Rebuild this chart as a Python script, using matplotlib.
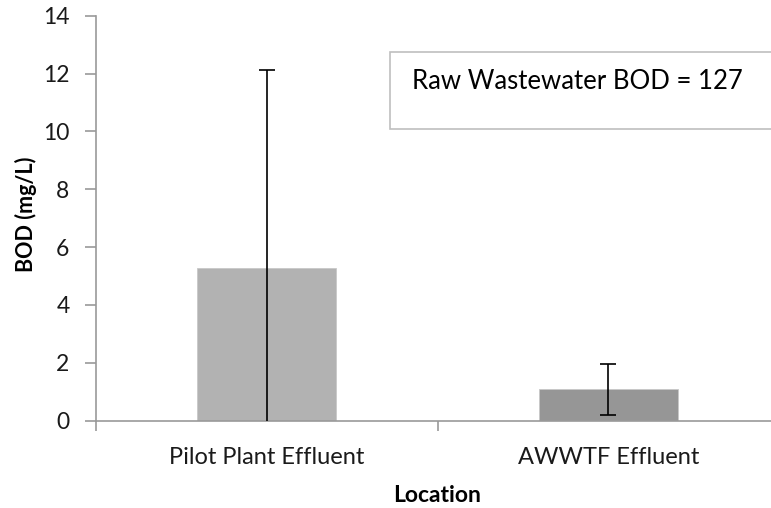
import matplotlib
matplotlib.use("Agg")
import matplotlib.pyplot as plt
from matplotlib.patches import Rectangle

categories = ["Pilot Plant Effluent", "AWWTF Effluent"]
bod_values = [5.28, 1.08]
bod_errors = [6.83, 0.88]
bar_colors = ["#b2b2b2", "#969696"]
y_ticks = [0, 2, 4, 6, 8, 10, 12, 14]

W, H = 771, 508
plt.rcParams['font.family'] = ['Lato', 'DejaVu Sans']
fig = plt.figure(figsize=(W / 100, H / 100), dpi=100)

left, right = 96, 779
top, bottom = 15.7, 420.7
ax = fig.add_axes([left / W, 1 - bottom / H, (right - left) / W, (bottom - top) / H])

x = list(range(len(categories)))
ax.bar(x, bod_values, width=0.407, color=bar_colors, edgecolor="#c8c8c8", linewidth=0.6, zorder=2)
ax.errorbar(x, bod_values, yerr=bod_errors, fmt="none", ecolor="black", elinewidth=1.2,
            capsize=6, capthick=1.2, zorder=3)

ax.set_xlim(-0.5, len(categories) - 0.5)
ax.set_ylim(0, 14)
ax.set_yticks(y_ticks)
ax.set_yticklabels([str(v) for v in y_ticks], fontsize=16.5, color="#1a1a1a")

ax.set_xticks([-0.5 + i for i in range(len(categories) + 1)])
ax.set_xticklabels([])
ax.set_xticks(x, minor=True)
ax.set_xticklabels(categories, minor=True, fontsize=17, color="#1a1a1a")
ax.tick_params(axis="x", which="major", length=7, color="#999999", width=1.2, direction="out")
ax.tick_params(axis="x", which="minor", length=0, pad=19)
ax.tick_params(axis="y", length=8, color="#999999", width=1.2, direction="out", pad=11)

for s in ["top", "right"]:
    ax.spines[s].set_visible(False)
for s in ["left", "bottom"]:
    ax.spines[s].set_color("#999999")
    ax.spines[s].set_linewidth(1.2)

fig.text(26 / W, 1 - 214 / H, "BOD (mg/L)", rotation=90, ha="center", va="center",
         fontsize=15.5, fontweight="bold")
fig.text(437 / W, 1 - 495 / H, "Location", ha="center", va="center",
         fontsize=16.5, fontweight="bold")

box = Rectangle((390 / W, 1 - 129 / H), (800 - 390) / W, (129 - 52) / H,
                transform=fig.transFigure, facecolor="white", edgecolor="#bfbfbf",
                linewidth=1.2, zorder=5)
fig.patches.append(box)
fig.text(412 / W, 1 - 82 / H, "Raw Wastewater BOD = 127", ha="left", va="center",
         fontsize=18.5, color="black", zorder=6)

fig.savefig("out.png", dpi=100)
